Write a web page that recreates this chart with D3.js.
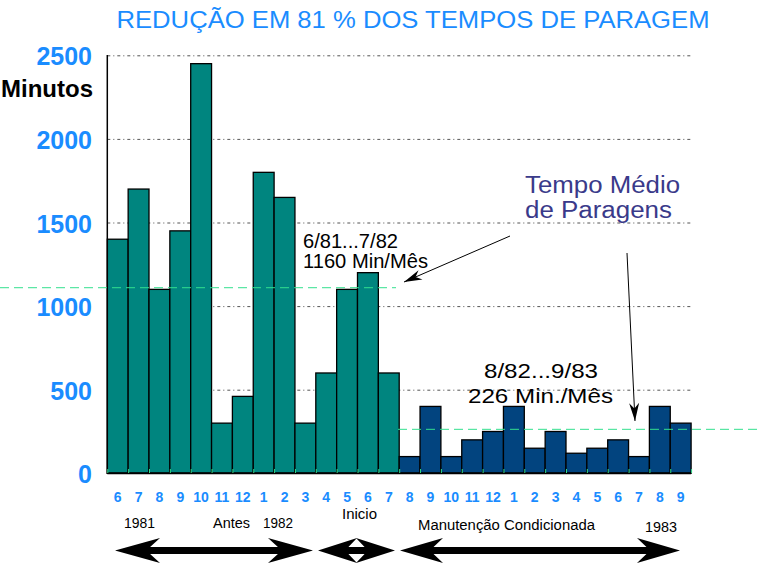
<!DOCTYPE html>
<html>
<head>
<meta charset="utf-8">
<script src="https://cdn.jsdelivr.net/npm/d3@7"></script>
<style>
  html, body { margin: 0; padding: 0; background: #fff; }
  svg { display: block; }
  text { font-family: "Liberation Sans", Arial, sans-serif; }
</style>
</head>
<body>
<svg id="chart" width="757" height="571"></svg>
<script>
// ---- data ----
const months = ["6","7","8","9","10","11","12","1","2","3","4","5","6","7",
                "8","9","10","11","12","1","2","3","4","5","6","7","8","9"];
const beforeMinutes = [1400,1700,1100,1450,2450,300,460,1800,1650,300,600,1100,1200,600];
const afterMinutes  = [100,400,100,200,250,400,150,250,120,150,200,100,400,300];
const meanBefore = 1110;   // dashed mean line (6/81...7/82)
const meanAfter = 263;     // dashed mean line (8/82...9/83)
const yTicks = [0,500,1000,1500,2000,2500];

const values = beforeMinutes.concat(afterMinutes);
const phase = beforeMinutes.map(() => "antes").concat(afterMinutes.map(() => "depois"));

// ---- layout ----
const svg = d3.select("#chart");
const x = d3.scaleBand().domain(d3.range(values.length)).range([107.3, 691.1]).padding(0);
const y = d3.scaleLinear().domain([0, 2500]).range([473.3, 55.3]);
const blue = "#1a8cff";

// title
svg.append("text").attr("x", 413).attr("y", 28).attr("text-anchor", "middle")
  .attr("font-size", 23).attr("fill", blue)
  .attr("textLength", 593).attr("lengthAdjust", "spacingAndGlyphs")
  .text("REDUÇÃO EM 81 % DOS TEMPOS DE PARAGEM");

// gridlines
svg.append("g").selectAll("line").data(yTicks.filter(d => d > 0)).join("line")
  .attr("x1", 107.3).attr("x2", 691).attr("y1", d => y(d) + 0.5).attr("y2", d => y(d) + 0.5)
  .attr("stroke", "#555").attr("stroke-width", 1).attr("stroke-dasharray", "3,3,1,3");

// y tick labels
svg.append("g").selectAll("text").data(yTicks).join("text")
  .attr("x", 92).attr("y", d => y(d) + 10).attr("text-anchor", "end")
  .attr("font-size", 25).attr("font-weight", "bold").attr("fill", blue)
  .text(d => d);

svg.append("text").attr("x", 1).attr("y", 97).attr("font-size", 24).attr("font-weight", "bold")
  .attr("fill", "#000").text("Minutos");

// bars
svg.append("g").selectAll("rect").data(values).join("rect")
  .attr("x", (d, i) => x(i)).attr("width", x.bandwidth())
  .attr("y", d => y(d)).attr("height", d => y(0) - y(d))
  .attr("fill", (d, i) => phase[i] === "antes" ? "#00857f" : "#02447f")
  .attr("stroke", "#000").attr("stroke-width", 1.3);

// y axis + baseline
svg.append("line").attr("x1", 107.3).attr("x2", 107.3).attr("y1", 55).attr("y2", 474)
  .attr("stroke", "#000").attr("stroke-width", 1.5);
svg.append("line").attr("x1", 107.3).attr("x2", 691.1).attr("y1", 473.3).attr("y2", 473.3)
  .attr("stroke", "#000").attr("stroke-width", 2);

// green ticks at bar boundaries
svg.append("g").selectAll("line").data(d3.range(values.length + 1)).join("line")
  .attr("x1", i => 107.3 + i * x.bandwidth() + 0.5).attr("x2", i => 107.3 + i * x.bandwidth() + 0.5)
  .attr("y1", 469).attr("y2", 473)
  .attr("stroke", "#33dd88").attr("stroke-width", 1);

// mean dashed lines
svg.append("line").attr("x1", 0).attr("x2", 396).attr("y1", y(meanBefore)).attr("y2", y(meanBefore))
  .attr("stroke", "#33e08f").attr("stroke-width", 1).attr("stroke-dasharray", "9,5");
svg.append("line").attr("x1", 398).attr("x2", 757).attr("y1", y(meanAfter)).attr("y2", y(meanAfter))
  .attr("stroke", "#33e08f").attr("stroke-width", 1).attr("stroke-dasharray", "9,5");

// x tick labels
svg.append("g").selectAll("text").data(months).join("text")
  .attr("x", (d, i) => x(i) + x.bandwidth() / 2).attr("y", 502).attr("text-anchor", "middle")
  .attr("font-size", 14).attr("font-weight", "bold").attr("fill", blue)
  .text(d => d);

// period labels
const lbl = (t, xx, yy, len) => svg.append("text").attr("x", xx).attr("y", yy)
  .attr("font-size", 14).attr("fill", "#000")
  .attr("textLength", len).attr("lengthAdjust", "spacingAndGlyphs").text(t);
lbl("1981", 124, 528, 31);
lbl("Antes", 213, 528, 37);
lbl("1982", 263, 528, 30);
lbl("Inicio", 342, 519, 35);
lbl("Manutenção Condicionada", 418, 530, 177);
lbl("1983", 645, 532, 32);

// annotations
const ann = (t, xx, yy, fs, len, col) => svg.append("text").attr("x", xx).attr("y", yy)
  .attr("font-size", fs).attr("fill", col || "#000")
  .attr("textLength", len).attr("lengthAdjust", "spacingAndGlyphs").text(t);
ann("6/81...7/82", 303, 248, 20, 95);
ann("1160 Min/Mês", 303, 268, 20, 125);
ann("8/82...9/83", 484, 378, 21, 114);
ann("226 Min./Mês", 468, 403, 21, 145);
ann("Tempo Médio", 525, 193, 23, 155, "#3a3a8a");
ann("de Paragens", 525, 217.5, 23, 147, "#3a3a8a");

// thin pointer arrows
function pointer(x1, y1, x2, y2) {
  svg.append("line").attr("x1", x1).attr("y1", y1).attr("x2", x2).attr("y2", y2)
    .attr("stroke", "#000").attr("stroke-width", 1);
  const a = Math.atan2(y2 - y1, x2 - x1), L = 18, W = 5;
  const bx = x2 - L * Math.cos(a), by = y2 - L * Math.sin(a);
  const nx = -Math.sin(a), ny = Math.cos(a);
  const mx = x2 - L * 0.7 * Math.cos(a), my = y2 - L * 0.7 * Math.sin(a);
  svg.append("path")
    .attr("d", `M${x2},${y2} L${bx + nx * W},${by + ny * W} L${mx},${my} L${bx - nx * W},${by - ny * W} Z`)
    .attr("fill", "#000");
}
pointer(510, 236, 404, 282);
pointer(627, 253, 635, 421);

// big double arrows
function head(tip, dir, yc, len, hh, sh) {
  const b = tip + dir * len, n = tip + dir * len * 0.78;
  return `M${tip},${yc} L${b},${yc - hh} L${n},${yc - sh} L${n},${yc + sh} L${b},${yc + hh} Z`;
}
function dbl(x1, x2, yc, len) {
  const hh = 12.5, sh = 3.5;
  svg.append("rect").attr("x", x1 + len * 0.7).attr("width", (x2 - x1) - len * 1.4)
    .attr("y", yc - sh).attr("height", sh * 2).attr("fill", "#000");
  svg.append("path").attr("d", head(x1, 1, yc, len, hh, sh)).attr("fill", "#000");
  svg.append("path").attr("d", head(x2, -1, yc, len, hh, sh)).attr("fill", "#000");
}
dbl(115, 313, 550.5, 45);
dbl(318, 395, 550.5, 39);
dbl(400, 680, 550.5, 43);
</script>
</body>
</html>
